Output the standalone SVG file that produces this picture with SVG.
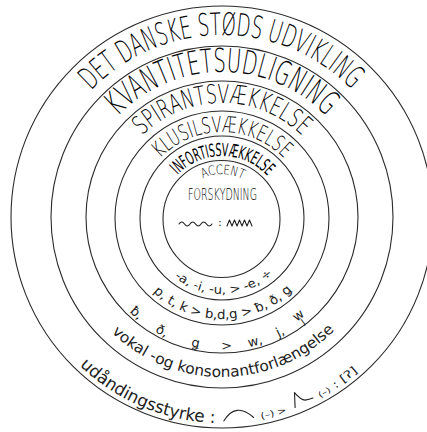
<svg xmlns="http://www.w3.org/2000/svg" xmlns:xlink="http://www.w3.org/1999/xlink" width="427" height="432" viewBox="0 0 427 432">
<style>
.c{fill:none;stroke:#2a2a2a;stroke-width:1.1}
.cap{font-family:"DejaVu Sans","DejaVu Sans Condensed",sans-serif;font-weight:200;fill:#000}
.cap.b{font-weight:400}
.hand{font-family:"DejaVu Sans",sans-serif;fill:#222}
.sym{fill:none;stroke:#222;stroke-width:1.1;stroke-linecap:round;stroke-linejoin:round}
</style>
<defs>
<path id="t1" d="M40.69 201.14 A182 182 0 0 1 403.31 201.14"/>
<path id="t2" d="M77.55 204.36 A145 145 0 0 1 366.45 204.36"/>
<path id="t3" d="M108.43 207.06 A114 114 0 0 1 335.57 207.06"/>
<path id="t4" d="M136.33 210.50 A86 86 0 0 1 307.67 210.50"/>
<path id="t5" d="M160.24 212.60 A62 62 0 0 1 283.76 212.60"/>
<path id="t6" d="M178.17 214.17 A44 44 0 0 1 265.83 214.17"/>
<path id="b1" d="M17.78 235.87 A205 205 0 0 0 426.22 235.87"/>
<path id="b2" d="M63.61 231.86 A159 159 0 0 0 380.39 231.86"/>
<path id="b3" d="M90.50 229.51 A132 132 0 0 0 353.50 229.51"/>
<path id="b4" d="M121.38 226.80 A101 101 0 0 0 322.62 226.80"/>
<path id="b5" d="M146.29 224.62 A76 76 0 0 0 297.71 224.62"/>
</defs>
<rect width="427" height="432" fill="#fff"/>
<g id="circles">
<circle class="c" cx="222" cy="217" r="211"/>
<circle class="c" cx="222" cy="217" r="171"/>
<circle class="c" cx="222" cy="217" r="136"/>
<circle class="c" cx="222" cy="218" r="107"/>
<circle class="c" cx="222" cy="218" r="82"/>
<circle class="c" cx="221.5" cy="219" r="58.5"/>
</g>
<g id="ring1">
<text class="cap" font-size="31"><textPath xlink:href="#t1" startOffset="123.9" textLength="290.6" lengthAdjust="spacingAndGlyphs">DET DANSKE STØDS UDVIKLING</textPath></text>
<text class="hand" font-size="17"><textPath xlink:href="#b1" startOffset="146.7" textLength="150.3" lengthAdjust="spacingAndGlyphs">udåndingsstyrke :</textPath></text>
<text class="hand" font-size="9"><textPath xlink:href="#b1" startOffset="343.5" textLength="26.8" lengthAdjust="spacingAndGlyphs">(–) &gt;</textPath></text>
<text class="hand" font-size="11"><textPath xlink:href="#b1" startOffset="406.1" textLength="46.5" lengthAdjust="spacingAndGlyphs"><tspan font-size="8">(–)</tspan> : [ʔ]</textPath></text>
<path class="sym" d="M223.8 421 Q235.5 401.5 253.6 417.5"/>
<path class="sym" transform="translate(295.1 407.4) rotate(-22)" d="M0 0 L5 -14 Q8 -5 12 -3 Q16 -2 20 -2"/>
</g>
<g id="ring2">
<text class="cap" font-size="33"><textPath xlink:href="#t2" startOffset="98.7" textLength="232.8" lengthAdjust="spacingAndGlyphs">KVANTITETSUDLIGNING</textPath></text>
<text class="hand" font-size="15"><textPath xlink:href="#b2" startOffset="113.8" textLength="247" lengthAdjust="spacingAndGlyphs">vokal -og konsonantforlængelse</textPath></text>
</g>
<g id="ring3">
<text class="cap" font-size="26"><textPath xlink:href="#t3" startOffset="80.6" textLength="177.1" lengthAdjust="spacingAndGlyphs">SPIRANTSVÆKKELSE</textPath></text>
<g class="hand" font-size="13" text-anchor="middle">
<text><textPath xlink:href="#b3" startOffset="99.1">ƀ,</textPath></text>
<text><textPath xlink:href="#b3" startOffset="131.3">ð,</textPath></text>
<text><textPath xlink:href="#b3" startOffset="168.2">ǥ</textPath></text>
<text><textPath xlink:href="#b3" startOffset="200.4">&gt;</textPath></text>
<text><textPath xlink:href="#b3" startOffset="230.4">w,</textPath></text>
<text><textPath xlink:href="#b3" startOffset="258">j,</textPath></text>
<text><textPath xlink:href="#b3" startOffset="283.4"><tspan dy="-4">w</tspan><tspan dx="-7" dy="6" font-size="10">j</tspan></textPath></text>
</g>
</g>
<g id="ring4">
<text class="cap" font-size="22"><textPath xlink:href="#t4" startOffset="58.5" textLength="138.1" lengthAdjust="spacingAndGlyphs">KLUSILSVÆKKELSE</textPath></text>
<text class="hand" font-size="13"><textPath xlink:href="#b4" startOffset="74" textLength="153.4" lengthAdjust="spacingAndGlyphs">p, t, k &gt; b,d,g &gt; ƀ, ð, ǥ</textPath></text>
</g>
<g id="ring5">
<text class="cap b" font-size="18"><textPath xlink:href="#t5" startOffset="42.2" textLength="100.6" lengthAdjust="spacingAndGlyphs">INFORTISSVÆKKELSE</textPath></text>
<text class="hand" font-size="12"><textPath xlink:href="#b5" startOffset="61" textLength="107.4" lengthAdjust="spacingAndGlyphs">-a, -i, -u, &gt; -e, ÷</textPath></text>
</g>
<g id="center">
<text class="cap" font-size="13"><textPath xlink:href="#t6" startOffset="45.2" textLength="41.5" lengthAdjust="spacingAndGlyphs">ACCENT</textPath></text>
<text class="cap" font-size="16" x="188" y="200" textLength="69" lengthAdjust="spacingAndGlyphs">FORSKYDNING</text>
<path class="sym" d="M179 224 q2.75 -4 5.5 0 t5.5 0 t5.5 0 t5.5 0 t5.5 0 t5.5 0"/>
<text class="hand" font-size="11" x="218" y="226">:</text>
<path class="sym" d="M227 226 l2.5 -6 l2.5 6 l2.5 -6 l2.5 6 l2.5 -6 l2.5 6 l2.5 -6 l2.5 6 l2.5 -6 l2.5 6"/>
</g>
</svg>
